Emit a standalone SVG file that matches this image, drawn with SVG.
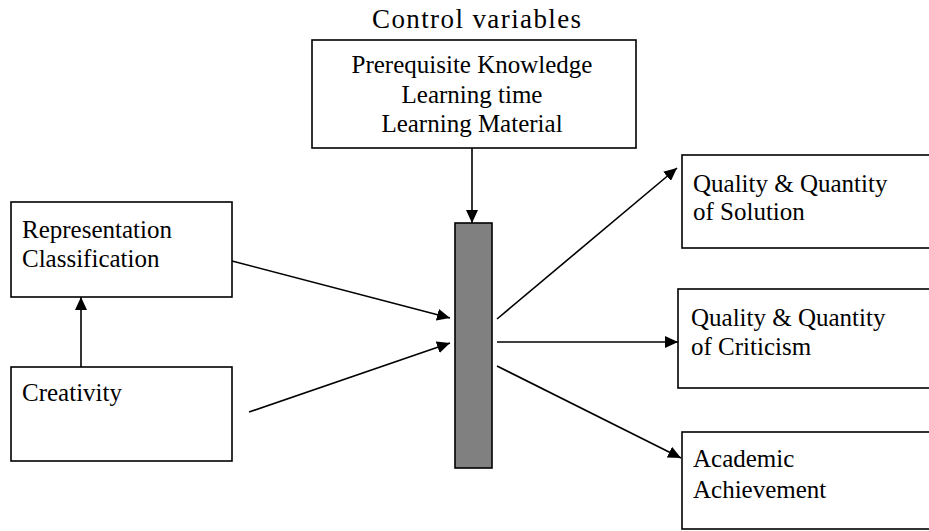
<svg xmlns="http://www.w3.org/2000/svg" width="929" height="531" viewBox="0 0 929 531">
<style>
.box{fill:#fff;stroke:#000;stroke-width:1.6}
.bar{fill:#808080;stroke:#000;stroke-width:1.6}
.t{font-family:"Liberation Serif","Times New Roman",serif;font-size:25px;fill:#000}
.c{text-anchor:middle}
.ln{stroke:#000;stroke-width:1.6;fill:none;marker-end:url(#ah)}
</style>
<defs>
<marker id="ah" markerUnits="userSpaceOnUse" markerWidth="14" markerHeight="12" refX="13" refY="6" orient="auto">
<path d="M0,0 L13,6 L0,12 Z" fill="#000"/>
</marker>
</defs>
<text class="t" x="372" y="28" style="font-size:27px;letter-spacing:1.4px">Control variables</text>
<g id="control">
<rect class="box" x="312" y="40" width="324" height="108"/>
<text class="t c" x="472" y="73">Prerequisite Knowledge</text>
<text class="t c" x="472" y="103">Learning time</text>
<text class="t c" x="472" y="132">Learning Material</text>
</g>
<g id="representation">
<rect class="box" x="11" y="202" width="221" height="95"/>
<text class="t" x="22" y="238">Representation</text>
<text class="t" x="22" y="267">Classification</text>
</g>
<g id="creativity">
<rect class="box" x="11" y="367" width="221" height="94"/>
<text class="t" x="22" y="401">Creativity</text>
</g>
<g id="mediator">
<rect class="bar" x="455" y="223" width="37" height="245"/>
</g>
<g id="solution">
<rect class="box" x="682" y="155" width="260" height="93"/>
<text class="t" x="693" y="192">Quality &amp; Quantity</text>
<text class="t" x="693" y="220">of Solution</text>
</g>
<g id="criticism">
<rect class="box" x="678" y="289" width="264" height="99"/>
<text class="t" x="691" y="326">Quality &amp; Quantity</text>
<text class="t" x="691" y="355">of Criticism</text>
</g>
<g id="achievement">
<rect class="box" x="682" y="432" width="260" height="97"/>
<text class="t" x="693" y="467">Academic</text>
<text class="t" x="693" y="498">Achievement</text>
</g>
<g id="connectors">
<line class="ln" x1="472" y1="148" x2="472" y2="223"/>
<line class="ln" x1="81" y1="367" x2="81" y2="297"/>
<line class="ln" x1="232" y1="261" x2="450" y2="318"/>
<line class="ln" x1="249" y1="412" x2="450" y2="343"/>
<line class="ln" x1="497" y1="319" x2="677" y2="168"/>
<line class="ln" x1="497" y1="342" x2="678" y2="342"/>
<line class="ln" x1="497" y1="366" x2="681" y2="458"/>
</g>
</svg>
